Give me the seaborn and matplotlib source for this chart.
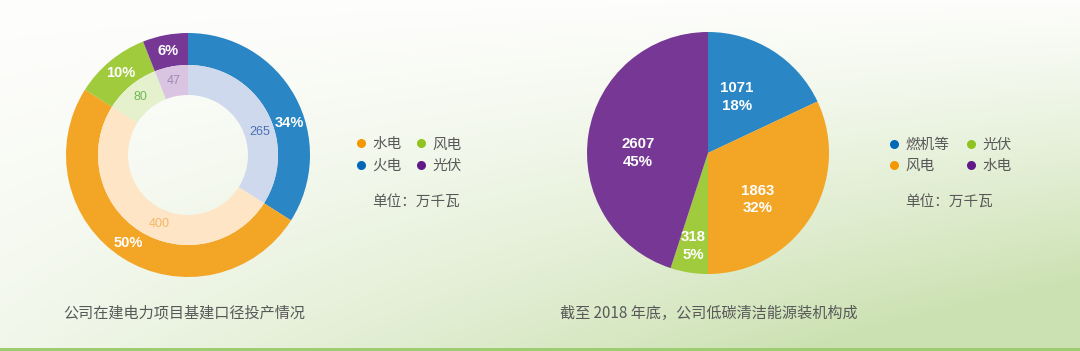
import numpy as np
import matplotlib
matplotlib.use("Agg")
import matplotlib.pyplot as plt
from matplotlib.lines import Line2D
import seaborn as sns

# ---------------- data ----------------
left_categories = ["火电", "水电", "风电", "光伏"]
left_percent = [34, 50, 10, 6]
left_values = [265, 400, 80, 47]
left_title = "公司在建电力项目基建口径投产情况"

right_categories = ["燃机等", "风电", "光伏", "水电"]
right_percent = [18, 32, 5, 45]
right_values = [1071, 1863, 318, 2607]
right_title = "截至 2018 年底，公司低碳清洁能源装机构成"

unit_text = "单位：万千瓦"

# ---------------- style ----------------
sns.set_theme(style="white")
plt.rcParams["font.family"] = ["Noto Sans CJK SC", "DejaVu Sans"]

C_BLUE, C_ORANGE, C_GREEN, C_PURPLE = "#2a86c4", "#f3a526", "#9fcb3c", "#773794"
L_BLUE, L_ORANGE, L_GREEN, L_PURPLE = "#cfd9ee", "#fde5c6", "#e5f0cd", "#d9c5e1"
T_BLUE, T_ORANGE, T_GREEN, T_PURPLE = "#4a6fb0", "#f6b766", "#6dbb52", "#a088b8"
left_colors = [C_BLUE, C_ORANGE, C_GREEN, C_PURPLE]
left_inner_colors = [L_BLUE, L_ORANGE, L_GREEN, L_PURPLE]
left_inner_text = [T_BLUE, T_ORANGE, T_GREEN, T_PURPLE]
right_colors = [C_BLUE, C_ORANGE, C_GREEN, C_PURPLE]
TEXT = "#585858"
NUMFONT = ["Liberation Sans", "DejaVu Sans"]

W, H = 1080, 351
fig = plt.figure(figsize=(W / 100, H / 100), dpi=100)

# background gradient
bg = fig.add_axes([0, 0, 1, 1], zorder=0)
yy, xx = np.mgrid[0:H, 0:W]
fx, fy = xx / W, yy / H
w = np.clip(fy ** 1.3 * (0.25 + 0.85 * fx) + 0.2 * fx ** 1.5 * fy ** 0.5, 0, 1)[..., None]
white = np.array([0.995, 0.995, 0.99])
green = np.array([0.80, 0.885, 0.70])
img = white * (1 - w) + green * w
img[H - 3:, :, :] = np.array([0.62, 0.80, 0.44])
bg.imshow(img, aspect="auto", extent=[0, W, H, 0])
bg.set_axis_off()

HALF = 126


def pie_axes(cx, cy):
    ax = fig.add_axes([(cx - HALF) / W, (H - cy - HALF) / H, 2 * HALF / W, 2 * HALF / H], zorder=2)
    ax.patch.set_alpha(0)
    return ax


def finish_axes(ax, r):
    ax.set_xlim(-HALF / r, HALF / r)
    ax.set_ylim(-HALF / r, HALF / r)
    ax.set_aspect("equal")
    ax.set_axis_off()


def mid_angles(pcts):
    cum = np.cumsum(pcts)
    return 90 - (cum - np.array(pcts) / 2) * 3.6


# ---------------- left donut ----------------
R1 = 122.0
axL = pie_axes(188, 155)
axL.pie(left_percent, colors=left_colors, startangle=90, counterclock=False, radius=1,
        wedgeprops=dict(width=(122 - 90) / R1, edgecolor="none"))
axL.pie(left_percent, colors=left_inner_colors, startangle=90, counterclock=False, radius=90 / R1,
        wedgeprops=dict(width=(90 - 60) / R1, edgecolor="none"))
finish_axes(axL, R1)
angL = mid_angles(left_percent)
outer_shift = [-11, -2, 0, 0]
inner_shift = [-11, 10, 0, 0]
for a, p, so, si, v, tc in zip(angL, left_percent, outer_shift, inner_shift, left_values, left_inner_text):
    t = np.deg2rad(a + so)
    axL.text(0.87 * np.cos(t), 0.87 * np.sin(t), f"{p}%", ha="center", va="center",
             color="white", fontsize=10.5, fontweight="bold", family=NUMFONT)
    t = np.deg2rad(a + si)
    axL.text(0.615 * np.cos(t), 0.615 * np.sin(t), f"{v}", ha="center", va="center",
             color=tc, fontsize=9, family=NUMFONT)

# ---------------- right pie ----------------
R2 = 121.0
axR = pie_axes(708, 153)
axR.pie(right_percent, colors=right_colors, startangle=90, counterclock=False, radius=1,
        wedgeprops=dict(edgecolor="none"))
finish_axes(axR, R2)
angR = mid_angles(right_percent)
r_dist = [0.52, 0.56, 0.78, 0.58]
r_shift = [5, -11, 0, 9]
for a, d, s, v, p in zip(angR, r_dist, r_shift, right_values, right_percent):
    t = np.deg2rad(a + s)
    axR.text(d * np.cos(t), d * np.sin(t), f"{v}\n{p}%", ha="center",
             va="center", color="white", fontsize=10.8, fontweight="bold",
             family=NUMFONT, linespacing=1.35)

# ---------------- legends ----------------
def make_legend(labels, colors, x_left, y_center, colspace):
    handles = [Line2D([], [], marker="o", linestyle="", markersize=6.5,
                      markerfacecolor=c, markeredgecolor="none") for c in colors]
    leg = fig.legend(handles, labels, loc="center left",
                     bbox_to_anchor=(x_left / W, 1 - y_center / H), ncol=2,
                     frameon=False, fontsize=10.5, handlelength=0.8, handletextpad=0.4,
                     columnspacing=colspace, labelspacing=0.5, borderpad=0, borderaxespad=0)
    for t in leg.get_texts():
        t.set_color(TEXT)
    return leg

# order gives rows: 水电 风电 / 火电 光伏
make_legend(["水电", "火电", "风电", "光伏"], ["#f39800", "#0068b7", "#8fc31f", "#601986"],
            355, 155, 0.92)
make_legend(["燃机等", "风电", "光伏", "水电"], ["#0068b7", "#f39800", "#8fc31f", "#601986"],
            888, 155.5, 1.06)

fig.text(372 / W, 1 - 202 / H, unit_text, ha="left", va="center", fontsize=10.5, color=TEXT)
fig.text(905 / W, 1 - 202 / H, unit_text, ha="left", va="center", fontsize=10.5, color=TEXT)

# ---------------- captions ----------------
fig.text(63 / W, 1 - 313 / H, left_title, ha="left", va="center", fontsize=10.9, color=TEXT)
fig.text(560 / W, 1 - 313 / H, right_title, ha="left", va="center", fontsize=10.9, color=TEXT)

fig.savefig("out.png", dpi=100)
